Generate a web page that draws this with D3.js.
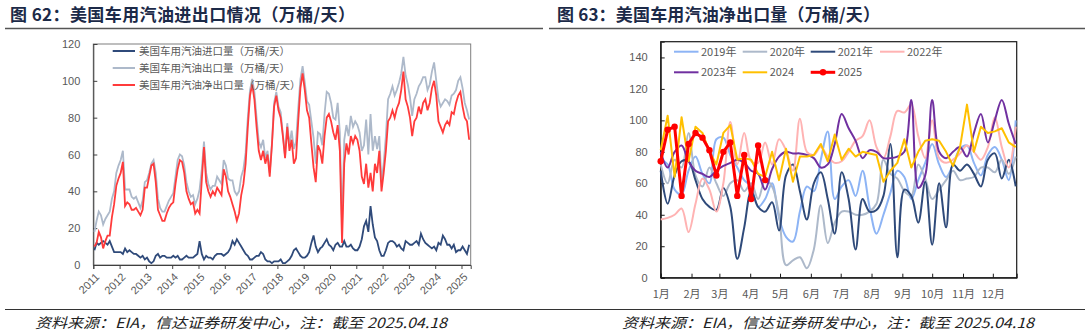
<!DOCTYPE html>
<html><head><meta charset="utf-8">
<script src="https://cdn.jsdelivr.net/npm/d3@7/dist/d3.min.js"></script>
<style>
html,body{margin:0;padding:0;background:#fff;}
svg{display:block;}
</style></head><body>
<svg id="chart" width="1088" height="336"></svg>
<script>
// ---------------- DATA ----------------
// Left chart: monthly values, Jan 2011 .. Apr 2025 (万桶/天)
const leftYearLabels = ["2011","2012","2013","2014","2015","2016","2017","2018","2019","2020","2021","2022","2023","2024","2025"];
const leftStartYear = 2011;
const leftSeriesNames = ["美国车用汽油进口量（万桶/天）","美国车用汽油出口量（万桶/天）","美国车用汽油净出口量（万桶/天）"];
const gasImports = [
  8,12,11,12,13,12,11,13,10,7,7,7,
  7,6,9,7,8,7,6,6,5,4,5,3,
  4,2,1,2,5,6,4,5,5,4,4,4,
  5,4,5,3,3,4,5,4,4,4,5,6,
  13,6,3,5,4,4,3,5,6,6,6,5,
  6,7,9,13,11,14,12,10,8,6,5,3,
  3,4,5,5,7,6,3,2,2,1,2,2,
  2,3,1,1,2,3,5,8,9,7,5,4,
  4,5,7,12,16,10,7,9,10,12,14,11,
  10,8,11,12,10,10,13,10,10,11,9,8,
  8,10,14,21,24,18,32,22,15,13,8,5,
  5,8,12,13,13,12,10,11,9,8,13,12,
  11,11,12,13,11,17,14,12,11,10,9,10,
  8,12,11,16,14,11,11,9,11,7,8,8,
  10,8,6,11];
const gasExports = [
  18,24,29,27,22,25,27,29,36,40,50,54,
  57,62,41,41,41,37,36,37,34,31,35,45,
  46,50,55,57,50,36,31,29,29,32,35,37,
  39,48,57,60,59,54,45,40,37,38,33,36,
  41,52,67,50,44,41,43,43,48,46,44,57,
  54,47,46,46,40,38,40,48,52,61,80,95,
  101,94,80,67,64,68,58,62,50,66,88,94,
  86,83,71,59,77,65,73,63,67,85,101,108,
  99,89,87,78,69,55,72,71,65,82,94,93,
  88,80,79,88,72,22,68,76,70,81,75,78,
  76,72,62,65,79,60,82,62,70,63,70,45,
  55,70,90,93,97,92,95,99,104,113,103,98,
  91,81,90,93,97,99,102,102,95,98,105,110,
  100,90,86,88,90,89,87,92,93,95,100,102,
  96,88,84,79];
const gasNetExports = [
  10,12,18,15,9,13,16,16,26,33,43,47,
  50,56,32,34,33,30,30,31,29,27,30,42,
  42,48,54,55,45,30,27,24,24,28,31,33,
  34,44,52,57,56,50,40,36,33,34,28,30,
  28,46,64,45,40,37,40,38,42,40,38,52,
  48,40,37,33,29,24,28,38,44,55,75,92,
  98,90,75,62,57,62,55,60,48,65,86,92,
  84,80,70,58,75,62,68,55,58,78,96,104,
  95,84,80,66,53,45,65,62,55,70,80,82,
  78,72,68,76,62,12,55,66,60,70,66,70,
  68,62,48,44,55,42,50,40,55,50,62,40,
  50,62,78,80,84,80,85,88,95,105,90,86,
  80,70,78,80,86,82,88,90,84,88,96,100,
  92,78,75,72,76,78,76,83,82,88,92,94,
  86,80,78,68];
const leftYTicks = [0,20,40,60,80,100,120];

// Right chart: weekly net exports by year (万桶/天)
const monthLabels = ["1月","2月","3月","4月","5月","6月","7月","8月","9月","10月","11月","12月"];
const monthStartDays = [0,31,59,90,120,151,181,212,243,273,304,334];
const rightYTicks = [0,20,40,60,80,100,120,140];
const seasonNames = ["2019年","2020年","2021年","2022年","2023年","2024","2025"];
const net2019 = [75,72,56,53,68,77,66,60,88,89,78,70,62,58,45,50,60,38,26,23,42,58,55,75,93,50,58,62,52,68,45,28,40,54,68,64,50,62,73,85,72,64,72,82,84,73,65,78,83,75,62,100];
const net2020 = [72,60,75,70,92,65,58,70,60,52,60,62,55,60,50,62,58,40,8,11,13,6,18,46,22,35,42,42,40,40,42,47,75,66,63,55,52,72,63,50,56,62,68,62,63,64,70,70,67,75,66,77];
const net2021 = [68,47,65,74,74,62,50,45,43,57,45,12,32,55,45,42,48,30,65,72,55,37,60,67,50,28,67,50,18,50,42,43,52,85,13,56,52,35,61,21,60,32,72,68,72,66,58,75,79,63,75,58];
const net2022 = [37,38,40,44,29,47,63,56,42,60,99,72,92,74,73,86,72,88,81,68,101,80,78,83,77,73,74,80,87,90,100,83,76,90,106,105,110,90,76,100,76,73,75,79,84,80,75,83,102,83,70,96];
const net2023 = [80,70,80,84,74,68,66,64,68,71,73,75,73,68,66,56,69,77,80,79,79,78,76,70,72,85,104,95,87,76,81,80,76,76,77,80,113,57,65,113,80,76,80,83,77,92,104,86,100,113,98,85];
const net2024 = [81,103,64,102,74,96,92,80,72,92,97,75,76,75,66,64,80,62,82,61,77,77,78,85,74,91,75,82,77,80,79,78,61,68,73,88,70,80,87,88,87,80,71,83,110,80,96,92,93,95,86,83];
const net2025 = [74,94,96,52,85,92,89,81,65,80,86,52,78,50,84,62];

// ---------------- DRAW ----------------
const svg = d3.select("#chart");
const CJK = '"Noto Sans CJK SC","Noto Sans",sans-serif';
const NUM = '"Liberation Sans",Arial,"Noto Sans CJK SC",sans-serif';
const TXT = "#595959";

// Titles & rules
function title(x, str, len){
  svg.append("text").attr("x", x).attr("y", 21)
    .attr("font-family", CJK).attr("font-weight", "bold").attr("font-size", 17)
    .attr("fill", "#1c2a48").attr("textLength", len).attr("lengthAdjust","spacing").text(str);
}
title(10, "图 62：美国车用汽油进出口情况（万桶/天）", 345);
title(557, "图 63：美国车用汽油净出口量（万桶/天）", 323);
svg.append("line").attr("x1",5).attr("x2",543).attr("y1",28.5).attr("y2",28.5).attr("stroke","#555").attr("stroke-width",1.3);
svg.append("line").attr("x1",549).attr("x2",1085).attr("y1",28.5).attr("y2",28.5).attr("stroke","#555").attr("stroke-width",1.3);
svg.append("line").attr("x1",5).attr("x2",1085).attr("y1",309.5).attr("y2",309.5).attr("stroke","#333").attr("stroke-width",1);
function footer(x){
  svg.append("text").attr("x", x).attr("y", 328)
    .attr("font-family", CJK).attr("font-style","italic").attr("font-size", 14)
    .attr("fill", "#222").attr("textLength", 412).attr("lengthAdjust","spacingAndGlyphs")
    .text("资料来源：EIA，信达证券研发中心，注：截至 2025.04.18");
}
footer(35); footer(622);

// ---------- Left chart ----------
const xL = d3.scaleLinear().domain([2011, 2025.35]).range([93.3, 470.7]);
const yL = d3.scaleLinear().domain([0, 120]).range([265, 44]);
const tOf = i => leftStartYear + i/12 + 1/24;

const gL = svg.append("g");
gL.append("rect").attr("x", xL.range()[0]).attr("y", yL.range()[1])
  .attr("width", xL.range()[1]-xL.range()[0]).attr("height", yL.range()[0]-yL.range()[1])
  .attr("fill","none").attr("stroke","#7f7f7f").attr("stroke-width",1);

const axL = gL.append("g").attr("transform", `translate(${xL.range()[0]},0)`)
  .call(d3.axisLeft(yL).tickValues(leftYTicks).tickSize(-4).tickPadding(13));
axL.select(".domain").attr("stroke","#404040");
axL.selectAll(".tick line").attr("stroke","#404040");
axL.selectAll("text").attr("font-family", NUM).attr("font-size", 11).attr("fill", TXT);

const axLb = gL.append("g").attr("transform", `translate(0,${yL.range()[0]})`)
  .call(d3.axisBottom(xL).tickValues(leftYearLabels.map(Number)).tickSize(4).tickFormat(""));
axLb.select(".domain").attr("stroke","#404040");
axLb.selectAll(".tick line").attr("stroke","#404040");
gL.selectAll(".yl").data(leftYearLabels).join("text")
  .attr("transform", d => `translate(${xL(+d)+4},${yL.range()[0]+10}) rotate(-45)`)
  .attr("text-anchor","end").attr("dy","0.35em")
  .attr("font-family", NUM).attr("font-size", 11).attr("fill", TXT).text(d => d);

const lineL = d3.line().x((d,i) => xL(tOf(i))).y(d => yL(d));
const leftColors = ["#2f4a7a", "#adb9ca", "#ff3b3b"];
gL.append("path").datum(gasExports).attr("d", lineL).attr("fill","none").attr("stroke", leftColors[1]).attr("stroke-width",1.8);
gL.append("path").datum(gasImports).attr("d", lineL).attr("fill","none").attr("stroke", leftColors[0]).attr("stroke-width",1.8);
gL.append("path").datum(gasNetExports).attr("d", lineL).attr("fill","none").attr("stroke", leftColors[2]).attr("stroke-width",1.8);

leftSeriesNames.forEach((name, i) => {
  const y = 51 + i*17;
  gL.append("line").attr("x1",112.7).attr("x2",135).attr("y1",y).attr("y2",y).attr("stroke",leftColors[i]).attr("stroke-width",2);
  gL.append("text").attr("x",139).attr("y",y).attr("dy","0.35em").attr("font-family",CJK).attr("font-size",10.5).attr("fill",TXT).text(name);
});

// ---------- Right chart ----------
const xR = d3.scaleLinear().domain([0, 358]).range([660.7, 1016.7]);
const yR = d3.scaleLinear().domain([0, 150]).range([277.7, 41.7]);
const gR = svg.append("g");
gR.append("rect").attr("x", xR.range()[0]).attr("y", yR.range()[1])
  .attr("width", xR.range()[1]-xR.range()[0]).attr("height", yR.range()[0]-yR.range()[1])
  .attr("fill","none").attr("stroke","#1a1a1a").attr("stroke-width",1.2);
const axR = gR.append("g").attr("transform", `translate(${xR.range()[0]},0)`)
  .call(d3.axisLeft(yR).tickValues(rightYTicks).tickSize(-4).tickPadding(13));
axR.select(".domain").attr("stroke","#1a1a1a");
axR.selectAll(".tick line").attr("stroke","#1a1a1a");
axR.selectAll("text").attr("font-family", NUM).attr("font-size", 11).attr("fill", TXT);
const axRb = gR.append("g").attr("transform", `translate(0,${yR.range()[0]})`)
  .call(d3.axisBottom(xR).tickValues(monthStartDays).tickSize(-4).tickPadding(13).tickFormat((d,i) => monthLabels[i]));
axRb.select(".domain").attr("stroke","#1a1a1a");
axRb.selectAll(".tick line").attr("stroke","#1a1a1a");
axRb.selectAll("text").attr("font-family", CJK).attr("font-size", 11).attr("fill", TXT);

const seasonData = [net2019, net2020, net2021, net2022, net2023, net2024, net2025];
const seasonColors = ["#8db4f5", "#adb9ca", "#2f4a7a", "#ffb3b3", "#7030a0", "#ffc000", "#ff0000"];
const smooth = d3.line().x((d,i) => xR(7*i)).y(d => yR(d)).curve(d3.curveCatmullRom.alpha(0.5));
const straight = d3.line().x((d,i) => xR(7*i)).y(d => yR(d));
seasonData.forEach((arr, s) => {
  const isSmooth = s < 5;
  gR.append("path").datum(arr).attr("d", isSmooth ? smooth : straight)
    .attr("fill","none").attr("stroke", seasonColors[s])
    .attr("stroke-width", s === 6 ? 3 : 2).attr("stroke-linejoin","round");
});
gR.selectAll(".dot25").data(net2025).join("circle")
  .attr("cx",(d,i) => xR(7*i)).attr("cy", d => yR(d)).attr("r",3.2).attr("fill","#ff0000");

// right legend
const legPos = [[674,51.7],[742.7,51.7],[810.7,51.7],[880,51.7],[674,72.3],[742.7,72.3],[810.7,72.3]];
seasonNames.forEach((name, s) => {
  const [lx, ly] = legPos[s];
  gR.append("line").attr("x1",lx).attr("x2",lx+24.5).attr("y1",ly).attr("y2",ly)
    .attr("stroke",seasonColors[s]).attr("stroke-width", s === 6 ? 3 : 2);
  if (s === 6) gR.append("circle").attr("cx",lx+12.3).attr("cy",ly).attr("r",3.2).attr("fill","#ff0000");
  gR.append("text").attr("x",lx+27).attr("y",ly).attr("dy","0.35em")
    .attr("font-family",CJK).attr("font-size",11).attr("fill",TXT).text(name);
});
</script>
</body></html>
